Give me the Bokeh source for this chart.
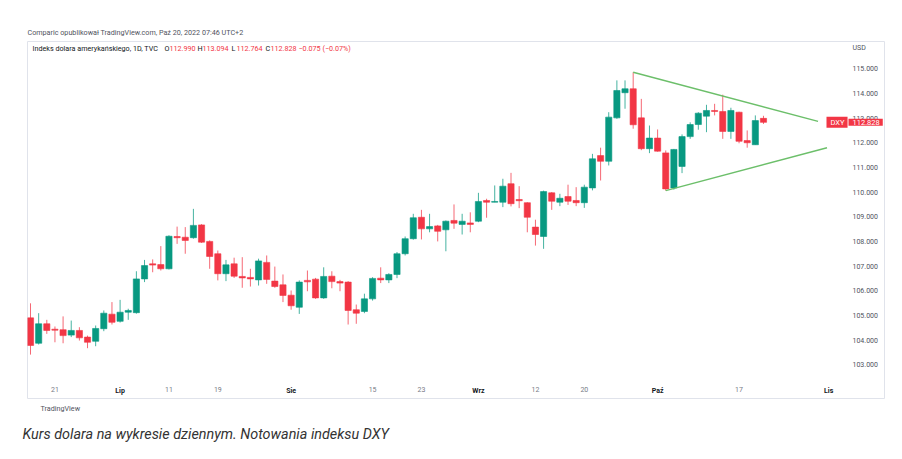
import pandas as pd
from bokeh.plotting import figure
from bokeh.models import (ColumnDataSource, Range1d, FixedTicker, PrintfTickFormatter,
                          LinearAxis, Label, Title)
from bokeh.embed import file_html
from bokeh.resources import INLINE

# ---------------- data (DXY daily) ----------------
start_date = "2022-06-16"
end_date = "2022-11-01"

opens = [104.90, 103.87, 104.66, 104.44, 104.42, 104.20, 104.39, 104.12, 103.95, 104.46,
         105.05, 104.76, 105.13, 105.11, 106.48, 107.09, 107.06, 106.89, 108.20, 108.17,
         108.15, 108.67, 108.00, 107.50, 106.69, 107.09, 106.58, 106.54, 106.44, 107.15,
         106.39, 106.24, 105.82, 105.33, 106.42, 106.47, 105.71, 106.59, 106.37, 106.35,
         105.23, 105.16, 105.67, 106.51, 106.44, 106.66, 107.50, 108.11, 108.98, 108.51,
         108.63, 108.47, 108.85, 108.69, 108.75, 108.82, 109.66, 109.59, 109.59, 110.34,
         109.70, 109.57, 108.58, 108.20, 109.97, 109.59, 109.82, 109.66, 109.57, 110.17,
         111.48, 111.25, 113.01, 114.03, 114.19, 113.01, 111.76, 112.19, 111.59, 110.17,
         111.04, 112.25, 112.74, 113.08, 113.31, 113.27, 112.46, 113.24, 112.09, 111.92,
         112.990]
highs = [105.49, 105.09, 104.82, 104.55, 104.96, 104.79, 104.52, 104.18, 104.59, 105.20,
         105.54, 105.63, 105.27, 106.79, 107.25, 107.27, 107.81, 108.25, 108.60, 108.58,
         109.32, 108.70, 108.04, 107.63, 107.25, 107.34, 107.36, 106.89, 107.30, 107.43,
         106.98, 106.66, 106.01, 106.42, 106.82, 106.52, 106.95, 106.79, 106.44, 106.39,
         105.44, 105.88, 106.55, 106.95, 106.71, 107.57, 108.20, 109.12, 109.28, 109.12,
         108.67, 108.85, 109.50, 109.12, 109.18, 109.97, 109.73, 110.27, 110.54, 110.78,
         110.24, 109.59, 108.88, 110.06, 110.00, 109.93, 110.30, 110.20, 110.30, 111.55,
         111.80, 113.24, 114.53, 114.53, 114.86, 113.78, 112.70, 112.54, 111.69, 111.75,
         112.34, 112.83, 113.24, 113.54, 113.58, 113.95, 113.42, 113.26, 112.50, 113.11,
         113.094]
lows = [103.41, 103.82, 104.25, 103.91, 103.87, 104.12, 103.98, 103.67, 103.75, 104.36,
        104.63, 104.71, 104.82, 105.07, 106.35, 106.75, 106.82, 106.86, 107.90, 107.50,
        108.11, 107.94, 106.89, 106.42, 106.39, 106.52, 106.12, 106.17, 106.21, 106.28,
        106.12, 105.54, 105.23, 105.06, 105.98, 105.67, 105.67, 106.10, 105.98, 104.63,
        104.66, 105.09, 105.60, 106.31, 106.31, 106.51, 107.43, 108.07, 108.08, 108.37,
        108.00, 107.60, 108.51, 108.28, 108.37, 108.78, 108.96, 109.59, 109.39, 109.42,
        109.35, 108.37, 107.83, 107.70, 109.28, 109.43, 109.48, 109.43, 109.36, 110.07,
        110.47, 111.08, 112.97, 113.38, 112.57, 111.70, 111.58, 111.64, 110.06, 110.10,
        110.77, 112.16, 112.53, 112.43, 113.11, 112.16, 112.16, 111.98, 111.80, 111.92,
        112.764]
closes = [103.78, 104.66, 104.39, 104.40, 104.18, 104.39, 104.09, 103.91, 104.47, 105.09,
          104.72, 105.13, 105.20, 106.48, 107.02, 107.04, 106.89, 108.21, 108.15, 108.04,
          108.65, 107.97, 107.39, 106.69, 107.05, 106.59, 106.52, 106.48, 107.21, 106.46,
          106.17, 105.81, 105.39, 106.35, 106.36, 105.71, 106.58, 106.37, 106.31, 105.20,
          105.09, 105.67, 106.50, 106.44, 106.66, 107.50, 108.11, 108.96, 108.51, 108.60,
          108.41, 108.82, 108.74, 108.82, 108.69, 109.62, 109.59, 109.62, 110.24, 109.53,
          109.65, 108.98, 108.28, 110.02, 109.63, 109.75, 109.63, 109.57, 110.20, 111.35,
          111.25, 113.04, 114.12, 114.19, 112.73, 111.76, 112.19, 111.66, 110.13, 111.73,
          112.25, 112.74, 113.20, 113.31, 113.27, 112.46, 113.31, 112.06, 112.00, 112.90,
          112.828]

# triangle drawn on the chart (bar index, price)
tri_upper_x = [74, 96.7]
tri_upper_y = [114.86, 112.87]
tri_lower_x = [78, 97.8]
tri_lower_y = [110.06, 111.80]

price_ticks = [103, 104, 105, 106, 107, 108, 109, 110, 111, 112, 113, 114, 115]
day_tick_dates = ["2022-06-21", "2022-07-11", "2022-07-19", "2022-08-15", "2022-08-23",
                  "2022-09-12", "2022-09-20", "2022-10-17"]
day_tick_labels = ["21", "11", "19", "15", "23", "12", "20", "17"]
month_tick_dates = ["2022-07-01", "2022-08-01", "2022-09-01", "2022-10-03", "2022-11-01"]
month_tick_labels = ["Lip", "Sie", "Wrz", "Paź", "Lis"]

last_close = closes[-1]

# ---------------- build ----------------
dates = pd.bdate_range(start_date, end_date)
pos = {d.strftime("%Y-%m-%d"): i for i, d in enumerate(dates)}

UP = "#089981"
DOWN = "#f23645"
idx = list(range(len(opens)))
colors = [UP if c >= o else DOWN for o, c in zip(opens, closes)]
src = ColumnDataSource(dict(
    x=idx, high=highs, low=lows,
    top=[max(o, c) for o, c in zip(opens, closes)],
    bottom=[min(o, c) for o, c in zip(opens, closes)],
    color=colors))

FONT = "Roboto"
FL, FB = 27, 398   # page coords of frame left / bottom

p = figure(frame_width=857, frame_height=357,
           x_range=Range1d(-0.37, 104.86), y_range=Range1d(101.63, 116.107),
           x_axis_type=None, y_axis_type=None,
           output_backend="svg", toolbar_location=None,
           min_border_left=27, min_border_top=41, min_border_right=18, min_border_bottom=61)
p.background_fill_color = "white"
p.border_fill_color = "white"
p.outline_line_color = "#e0e3eb"

p.segment(x0="x", y0="low", x1="x", y1="high", source=src, line_color="color",
          line_width=1, line_alpha=0.75)
p.vbar(x="x", width=0.76, top="top", bottom="bottom", source=src,
       fill_color="color", line_color="color", line_width=0.6)

p.line(tri_upper_x, tri_upper_y, line_color="#6cbf6a", line_width=1.4)
p.line(tri_lower_x, tri_lower_y, line_color="#6cbf6a", line_width=1.4)

# price axis (right)
yax = LinearAxis(ticker=FixedTicker(ticks=price_ticks),
                 formatter=PrintfTickFormatter(format="%.3f"))
yax.axis_line_color = None
yax.major_tick_line_color = None
yax.minor_tick_line_color = None
yax.major_tick_out = 0
yax.major_label_standoff = -32
yax.major_label_text_font = FONT
yax.major_label_text_font_size = "7px"
yax.major_label_text_color = "#50535e"
p.add_layout(yax, "right")

# date axes (below)
day_pos = [pos[d] for d in day_tick_dates]
xax = LinearAxis(ticker=FixedTicker(ticks=day_pos),
                 major_label_overrides={k: v for k, v in zip(day_pos, day_tick_labels)})
month_pos = [pos[d] for d in month_tick_dates]
xax2 = LinearAxis(ticker=FixedTicker(ticks=month_pos),
                  major_label_overrides={k: v for k, v in zip(month_pos, month_tick_labels)})
for ax, col, style in ((xax, "#787b86", "normal"), (xax2, "#131722", "bold")):
    ax.axis_line_color = None
    ax.major_tick_line_color = None
    ax.minor_tick_line_color = None
    ax.major_tick_out = 0
    ax.major_label_standoff = -12
    ax.major_label_text_font = FONT
    ax.major_label_text_font_size = "7px"
    ax.major_label_text_color = col
    ax.major_label_text_font_style = style
p.add_layout(xax, "below")
p.add_layout(xax2, "below")


def lab(text, px, py, size="7.2px", color="#131722", style="normal", font=FONT, **kw):
    p.add_layout(Label(x=px - FL, y=FB - py, x_units="screen", y_units="screen",
                       text=text, text_font=font, text_font_size=size,
                       text_color=color, text_font_style=style,
                       text_baseline="middle", **kw))


# header inside the chart box
lab("Indeks dolara amerykańskiego, 1D, TVC", 32, 48, color="#131722")
RED = "#f23645"
for t, x, c in (("O", 164, "#131722"), ("112.990", 169, RED), ("H", 197, "#131722"),
                ("113.094", 202, RED), ("L", 231, "#131722"), ("112.764", 236, RED),
                ("C", 265, "#131722"), ("112.828", 270, RED), ("−0.075 (−0.07%)", 298, RED)):
    lab(t, x, 48, color=c)
lab("USD", 852, 47, size="7px", color="#50535e")

# last price tags
p.add_layout(Label(x=826 - FL, y=last_close, x_units="screen", y_units="data",
                   text="DXY", text_font=FONT, text_font_size="7.5px", text_color="white",
                   text_baseline="middle", background_fill_color=RED, padding=(4, 3, 1, 1)))
p.add_layout(Label(x=848 - FL, y=last_close, x_units="screen", y_units="data",
                   text=f"{last_close:.3f}", text_font=FONT, text_font_size="7.5px",
                   text_color="white", text_baseline="middle",
                   background_fill_color=RED, padding=(4, 3, 1, 1)))

# texts outside the chart box
p.add_layout(Title(text="Comparic opublikował TradingView.com, Paź 20, 2022 07:46 UTC+2",
                   align="left", offset=0, standoff=9, text_font=FONT,
                   text_font_size="7.2px", text_color="#50535e",
                   text_font_style="normal"), "above")
p.add_layout(Title(text="TradingView", align="left", offset=13, standoff=6,
                   text_font=FONT, text_font_size="7.2px", text_color="#50535e",
                   text_font_style="normal"), "below")
p.add_layout(Title(text="Kurs dolara na wykresie dziennym. Notowania indeksu DXY",
                   align="left", offset=-5, standoff=17, text_font=FONT,
                   text_font_size="14.4px", text_color="#333333",
                   text_font_style="italic"), "below")

open("out.html", "w").write(file_html(p, INLINE))
